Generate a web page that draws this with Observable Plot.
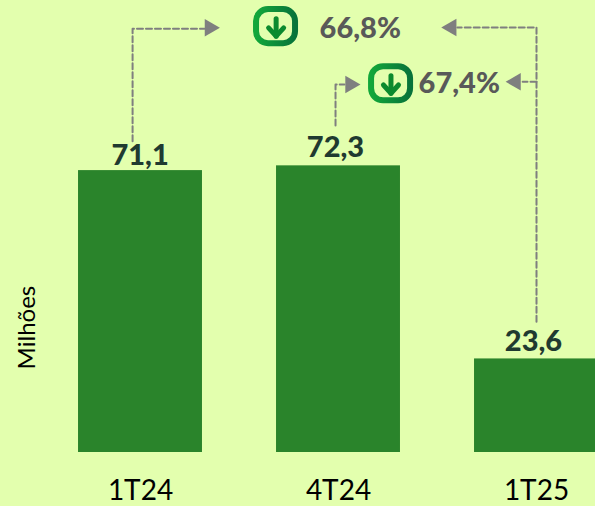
<!DOCTYPE html>
<html><head><meta charset="utf-8">
<script src="https://cdn.jsdelivr.net/npm/d3@7"></script>
<script src="https://cdn.jsdelivr.net/npm/@observablehq/plot@0.6"></script>
<style>html,body{margin:0;padding:0;background:#e3ffae;overflow:hidden}svg{display:block}</style>
</head><body><div id="chart"></div>
<script>
// Chart data
const categories = ["1T24", "4T24", "1T25"];
const positions = [0, 1, 2];
const values = [71.1, 72.3, 23.6];
const valueLabels = ["71,1", "72,3", "23,6"];
const axisTitle = "Milhões";
const changes = ["66,8%", "67,4%"];

// Annotation anchors, in chart units (x: category position, y: millions)
const barHalf = 0.313;
const labelX = [-0.002, 0.985, 1.985];
const labelY = [74.8, 76.8, 28];
const changeX = [1.11, 1.61];
const changeY = [107.0, 93];
const connectors = [
  [[-0.04, 78.5], [-0.04, 106.9], [0.323, 106.9]],
  [[0.985, 82.5], [0.985, 92.8], [1.03, 92.8]],
  [[2, 33], [2, 107.2], [1.6, 107.2]],
  [[2, 93.5], [1.93, 93.5]]
];
const heads = [
  {x: 0.35, y: 107.1, rotate: 90},
  {x: 1.06, y: 92.8, rotate: 90},
  {x: 1.57, y: 107.2, rotate: -90},
  {x: 1.895, y: 93.5, rotate: -90}
];
const icons = [
  {x1: 0.586, x2: 0.783, y1: 103.1, y2: 111.7},
  {x1: 1.167, x2: 1.364, y1: 88.7, y2: 97.3}
];
const iconArrows = [
  {cx: 0.685, top: 109.4, bottom: 105, wing: 0.038, wingY: 107.1},
  {cx: 1.265, top: 95, bottom: 90.6, wing: 0.038, wingY: 92.7}
];

const bars = categories.map((c, i) => ({c, i, v: values[i]}));
const defs = () => {
  const s = d3.create("svg:defs");
  const g = s.append("linearGradient").attr("id", "iconGrad");
  g.append("stop").attr("offset", "0%").attr("stop-color", "#12a73a");
  g.append("stop").attr("offset", "100%").attr("stop-color", "#08733a");
  return s.node();
};
const connectorRows = connectors.flatMap((pts, k) => pts.map(([x, y]) => ({x, y, k})));
const arrowRows = iconArrows.flatMap((a, k) => [
  {x: a.cx, y: a.top, k: `s${k}`}, {x: a.cx, y: a.bottom, k: `s${k}`},
  {x: a.cx - a.wing, y: a.wingY, k: `c${k}`}, {x: a.cx, y: a.bottom, k: `c${k}`}, {x: a.cx + a.wing, y: a.wingY, k: `c${k}`}
]);
const font = "Lato, Carlito, sans-serif";

const plot = Plot.plot({
  width: 595, height: 506,
  marginLeft: 0, marginRight: 0, marginTop: 0, marginBottom: 54,
  x: {domain: [-140 / 198, 455 / 198], axis: null},
  y: {domain: [0, 114], axis: null},
  style: {background: "#e3ffae", fontFamily: font},
  marks: [
    defs,
    Plot.rectY(bars, {x1: d => d.i - barHalf, x2: d => d.i + barHalf, y1: 0, y2: "v", fill: "#2a842b"}),
    Plot.axisX({ticks: positions, tickFormat: i => categories[i], tickSize: 0, tickPadding: 28, fontSize: 28, label: null, color: "#000", textStroke: "none"}),
    Plot.text([axisTitle], {x: -0.57, y: 31.5, rotate: -90, fontSize: 24, fill: "#000"}),
    Plot.text(valueLabels, {x: (d, i) => labelX[i], y: (d, i) => labelY[i], fontSize: 29, fontWeight: 900, fill: "#1f3a30"}),
    Plot.text(changes, {x: (d, i) => changeX[i], y: (d, i) => changeY[i], textAnchor: "middle", fontSize: 29, fontWeight: 900, fill: "#595959"}),
    Plot.line(connectorRows, {x: "x", y: "y", z: "k", stroke: "#7f7f7f", strokeWidth: 2, strokeDasharray: "6 3", curve: "linear"}),
    Plot.dot(heads, {x: "x", y: "y", rotate: "rotate", symbol: "triangle", r: 6.5, fill: "#7f7f7f", stroke: "none"}),
    Plot.rect(icons, {x1: "x1", x2: "x2", y1: "y1", y2: "y2", rx: 12, fill: "none", stroke: "url(#iconGrad)", strokeWidth: 6}),
    Plot.line(arrowRows, {x: "x", y: "y", z: "k", stroke: "#0b8a2e", strokeWidth: 5, strokeLinecap: "round", strokeLinejoin: "round", curve: "linear"})
  ]
});
document.getElementById("chart").append(plot);
</script></body></html>
